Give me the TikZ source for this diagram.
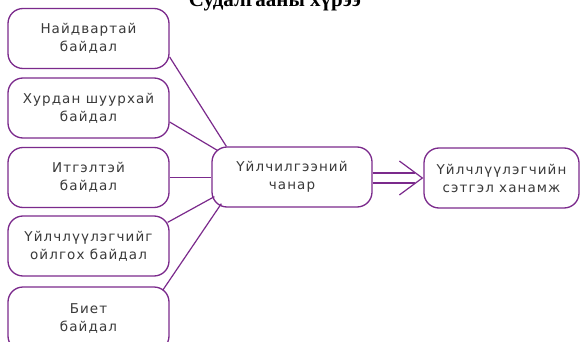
\documentclass[tikz,border=0pt]{standalone}
\usepackage{fontspec}
\setmainfont{DejaVu Sans}
\newfontfamily\boxfont[LetterSpace=8]{DejaVu Sans}
\newfontfamily\titlefont{Liberation Serif}
\usetikzlibrary{calc}
\definecolor{vio}{HTML}{7B2A8C}
\definecolor{txt}{HTML}{3A3A3A}
\begin{document}
\begin{tikzpicture}[x=1pt,y=-1pt,
  bx/.style={draw=vio, line width=1.3pt, rounded corners=15pt, minimum width=161pt, minimum height=60pt,
    align=center, text=txt, font=\boxfont\fontsize{13.5}{18}\selectfont, inner sep=0pt},
  ln/.style={draw=vio, line width=1.2pt}]
\useasboundingbox (0,0) rectangle (580,342);
\clip (0,0) rectangle (580,342);
\fill[white] (0,0) rectangle (580,342);
\node[anchor=base, font=\titlefont\bfseries\fontsize{21}{24}\selectfont, text=black] (title) at (275,7) {Судалгааны хүрээ};
\node[bx] (b1) at (88.5,38.5) {Найдвартай\\байдал};
\node[bx] (b2) at (88.5,108) {Хурдан шуурхай\\байдал};
\node[bx] (b3) at (88.5,177.5) {Итгэлтэй\\байдал};
\node[bx] (b4) at (88.5,246) {Үйлчлүүлэгчийг\\ойлгох байдал};
\node[bx, minimum height=64pt] (b5) at (88.5,319) {Биет\\байдал};
\node[bx, minimum width=160pt] (c) at (292,177) {Үйлчилгээний\\чанар};
\node[bx, minimum width=155pt] (r) at (501.5,178) {Үйлчлүүлэгчийн\\сэтгэл ханамж};
\draw[ln] ($(b1.east)+(0,18.5)$) -- ($(c.north west)+(15,0)$);
\draw[ln] ($(b2.east)+(0,14)$) -- ($(c.north west)+(6,4)$);
\draw[ln] (b3.east) -- (b3.east -| c.west);
\draw[ln] ($(b4.north east)+(-2,7)$) -- ($(c.south west)+(3,-11)$);
\draw[ln] ($(b5.north east)+(-7,4)$) -- ($(c.south west)+(10,-4)$);
\coordinate (tip) at ($(r.west)+(-1,0)$);
\draw[ln] ($(c.east)+(0,-4)$) -- ($(tip)+(-7,-5)$);
\draw[ln] ($(c.east)+(0,6)$) -- ($(tip)+(-7,5)$);
\draw[ln] ($(tip)+(-23,-17)$) -- (tip) -- ($(tip)+(-23,17)$);
\end{tikzpicture}
\end{document}
